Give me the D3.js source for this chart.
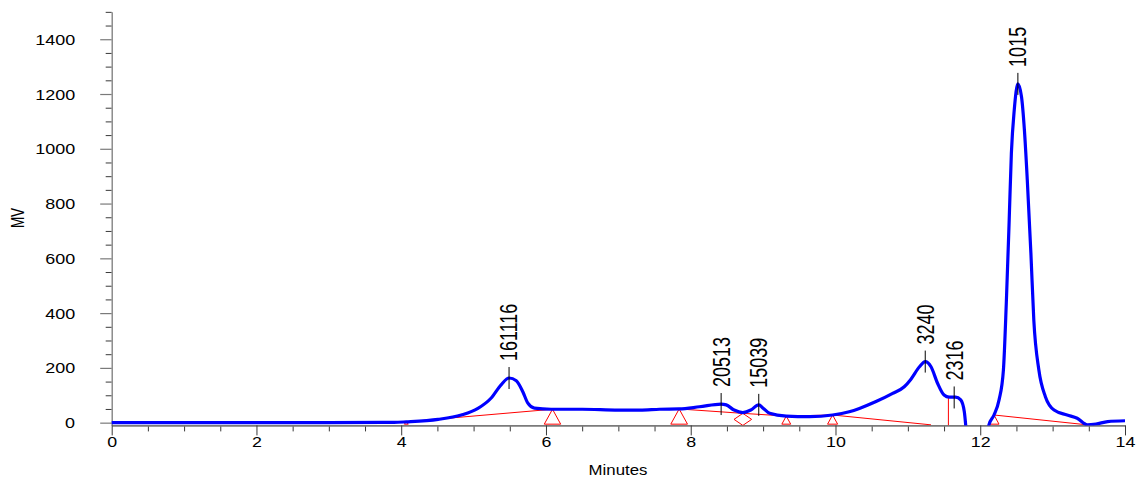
<!DOCTYPE html>
<html>
<head>
<meta charset="utf-8">
<script src="https://cdn.jsdelivr.net/npm/d3@7"></script>
<style>
  html, body { margin: 0; padding: 0; background: #ffffff; }
  svg { display: block; }
  text { font-family: "Liberation Sans", Arial, sans-serif; fill: #000; }
</style>
</head>
<body>
<svg id="chart" width="1139" height="479"></svg>
<script>
// ---------------- DATA ----------------
const times = [0, 1, 2, 3, 3.9, 4.07, 4.51, 4.83, 5.06, 5.24, 5.38, 5.49, 5.59, 5.68, 5.75, 5.84, 6.07,
  6.5, 7.0, 7.3, 7.57, 7.84, 8.12, 8.42, 8.49, 8.6, 8.72, 8.83, 8.94, 9.0, 9.09, 9.32, 9.64, 9.96,
  10.19, 10.33, 10.56, 10.79, 10.95, 11.04, 11.16, 11.24, 11.32, 11.41, 11.5, 11.57, 11.66, 11.73, 11.78,
  11.82, 11.95, 12.08, 12.12, 12.19, 12.26, 12.32, 12.36, 12.4, 12.43, 12.47, 12.52, 12.57, 12.61, 12.65,
  12.7, 12.74, 12.81, 12.9, 13.02, 13.2, 13.34, 13.48, 13.6, 13.76, 14];
const signal = [0, 0, 0, 0, 1, 3, 12, 28, 52, 89, 138, 163, 153, 113, 71, 53, 49,
  49, 46, 46, 49, 50, 58, 68, 65, 46, 37, 46, 65, 53, 34, 24, 22, 28,
  40, 52, 77, 107, 131, 158, 204, 223, 204, 144, 101, 93, 93, 83, 40,
  -60, -150, -60, -8, 28, 83, 192, 436, 740, 983, 1142, 1237, 1190, 1069, 886,
  618, 375, 192, 95, 46, 28, 16, -8, -5, 4, 7];

// integration baseline (red) polylines: times and levels
const baseTimesA = [4.07, 6.09];
const baseLevelsA = [3, 49];
const baseTimesB = [7.84, 8.72, 9.32, 9.96, 11.32];
const baseLevelsB = [50, 34, 24, 28, -8];
const baseTimesC = [12.19, 13.48];
const baseLevelsC = [28, -8];
// drop line between 3240 and 2316
const dropTime = 11.56;
const dropLevel = 93;

// baseline markers
const triangleTimes = [4.07, 6.09, 7.84, 9.32, 9.96, 12.19];
const triangleLevels = [3, 49, 50, 24, 28, 28];
const diamondTimes = [8.72];
const diamondLevels = [34];

// peak annotations
const peakLabels = ["161116", "20513", "15039", "3240", "2316", "1015"];
const peakTimes = [5.49, 8.42, 8.94, 11.24, 11.64, 12.52];
const peakHeights = [163, 68, 65, 223, 92, 1237];

// axis ticks
const xMajorTicks = [0, 2, 4, 6, 8, 10, 12, 14];
const xMinorTicks = [0.5, 1, 1.5, 2.5, 3, 3.5, 4.5, 5, 5.5, 6.5, 7, 7.5, 8.5, 9, 9.5, 10.5, 11, 11.5, 12.5, 13, 13.5];
const yMajorTicks = [0, 200, 400, 600, 800, 1000, 1200, 1400];
const yMinorTicks = [50, 100, 150, 250, 300, 350, 450, 500, 550, 650, 700, 750, 850, 900, 950,
  1050, 1100, 1150, 1250, 1300, 1350, 1450, 1500];

const xTitle = "Minutes";
const yTitle = "MV";

// ---------------- CHART ----------------
const svg = d3.select("#chart");
const x = d3.scaleLinear().domain([0, 14]).range([111.7, 1125]);
const y = d3.scaleLinear().domain([-10, 1500]).range([425.4, 11.85]);

const axisColor = "#7a7a7a";
const tickColor = "#3a3a3a";

// clip path
svg.append("defs").append("clipPath").attr("id", "plotclip")
  .append("rect")
  .attr("x", x(0) - 2).attr("y", 0)
  .attr("width", x(14) - x(0) + 6).attr("height", y(-10));

// Y axis
const gyMinor = svg.append("g").attr("transform", `translate(${x(0)},0)`)
  .call(d3.axisLeft(y).tickValues(yMinorTicks).tickSize(6).tickSizeOuter(0).tickFormat(""));
gyMinor.select(".domain").remove();
gyMinor.selectAll(".tick line").attr("stroke", tickColor);

const gy = svg.append("g").attr("transform", `translate(${x(0)},0)`)
  .call(d3.axisLeft(y).tickValues(yMajorTicks).tickSize(11.5).tickSizeOuter(0).tickFormat(d3.format("d")));
gy.select(".domain").attr("stroke", axisColor).attr("stroke-width", 1.3);
gy.selectAll(".tick line").attr("stroke", axisColor).attr("stroke-width", 1.2);
gy.selectAll(".tick text")
  .attr("font-size", 14.5)
  .attr("x", -29.5)
  .attr("dy", "0.35em")
  .attr("transform", "scale(1.24,1)")
  .style("font-family", '"Liberation Sans", Arial, sans-serif')
  .attr("fill", "#000");

// X axis
const gxMinor = svg.append("g").attr("transform", `translate(0,${y(-10)})`)
  .call(d3.axisBottom(x).tickValues(xMinorTicks).tickSize(6).tickSizeOuter(0).tickFormat(""));
gxMinor.select(".domain").remove();
gxMinor.selectAll(".tick line").attr("stroke", tickColor);

const gx = svg.append("g").attr("transform", `translate(0,${y(-10)})`)
  .call(d3.axisBottom(x).tickValues(xMajorTicks).tickSize(10).tickSizeOuter(0).tickFormat(d3.format("d")));
gx.select(".domain").attr("stroke", axisColor).attr("stroke-width", 1.7);
gx.selectAll(".tick line").attr("stroke", tickColor);
gx.selectAll(".tick text")
  .attr("font-size", 15.5)
  .attr("y", 11)
  .attr("dy", "0.71em")
  .attr("transform", "scale(1.15,1)")
  .style("font-family", '"Liberation Sans", Arial, sans-serif')
  .attr("fill", "#000");

// Axis titles
svg.append("text")
  .attr("transform", `translate(618,474.5) scale(1.2,1)`)
  .attr("text-anchor", "middle")
  .attr("font-size", 14)
  .text(xTitle);
svg.append("text")
  .attr("transform", `translate(17,218) rotate(-90) scale(1,1.35)`)
  .attr("text-anchor", "middle")
  .attr("dy", "0.36em")
  .attr("font-size", 13.5)
  .text(yTitle);

// ---------------- plot layer ----------------
const plot = svg.append("g").attr("clip-path", "url(#plotclip)");
const red = "#ff0000";
const straight = d3.line().x(d => x(d[0])).y(d => y(d[1]));

[[baseTimesA, baseLevelsA], [baseTimesB, baseLevelsB], [baseTimesC, baseLevelsC]].forEach(([ts, ls]) => {
  plot.append("path")
    .attr("d", straight(ts.map((t, i) => [t, ls[i]])))
    .attr("fill", "none").attr("stroke", red).attr("stroke-width", 1);
});

// drop line
plot.append("line")
  .attr("x1", x(dropTime)).attr("x2", x(dropTime))
  .attr("y1", y(dropLevel)).attr("y2", y(-10))
  .attr("stroke", red).attr("stroke-width", 1);

// triangle markers: apex at baseline point, base on the zero line
triangleTimes.forEach((t, i) => {
  const ax = x(t), ay = y(triangleLevels[i]);
  const by = y(0) + 1.5;
  const hw = Math.max(2, (by - ay) * 0.55);
  plot.append("path")
    .attr("d", `M${ax},${ay} L${ax - hw},${by} L${ax + hw},${by} Z`)
    .attr("fill", "none").attr("stroke", red).attr("stroke-width", 1);
});
// diamond markers
diamondTimes.forEach((t, i) => {
  const cx = x(t), top = y(diamondLevels[i]);
  const bot = y(-10);
  const cy = (top + bot) / 2;
  const hw = 8.8;
  plot.append("path")
    .attr("d", `M${cx},${top} L${cx + hw},${cy} L${cx},${bot} L${cx - hw},${cy} Z`)
    .attr("fill", "none").attr("stroke", red).attr("stroke-width", 1);
});

// chromatogram trace
const trace = d3.line()
  .x(d => x(d[0])).y(d => y(d[1]))
  .curve(d3.curveMonotoneX);
plot.append("path")
  .attr("d", trace(times.map((t, i) => [t, signal[i]])))
  .attr("fill", "none")
  .attr("stroke", "#0000ff")
  .attr("stroke-width", 3.2)
  .attr("stroke-linejoin", "round");

// peak ticks and labels
peakLabels.forEach((lab, i) => {
  const px = x(peakTimes[i]), py = y(peakHeights[i]);
  svg.append("line")
    .attr("x1", px).attr("x2", px)
    .attr("y1", py - 11).attr("y2", py + 11)
    .attr("stroke", "#000").attr("stroke-width", 1);
  svg.append("text")
    .attr("transform", `translate(${px},${py - 17}) rotate(-90) scale(1,1.3)`)
    .attr("text-anchor", "start")
    .attr("dy", "0.36em")
    .attr("font-size", 18)
    .text(lab);
});
</script>
</body>
</html>
